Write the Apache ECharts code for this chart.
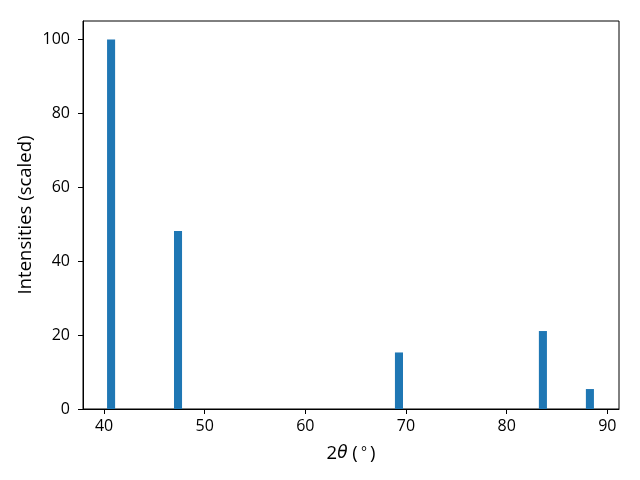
<!DOCTYPE html>
<html>
<head>
<meta charset="utf-8">
<script src="https://cdn.jsdelivr.net/npm/echarts@6/dist/echarts.min.js"></script>
<style>html,body{margin:0;padding:0;background:#fff;}#c{width:640px;height:480px;}</style>
</head>
<body>
<div id="c"></div>
<script>
var positions = [40.70, 47.35, 69.30, 83.60, 88.27];
var intensities = [100, 48.2, 15.3, 21.1, 5.4];
var xTicks = [40, 50, 60, 70, 80, 90];
var yTicks = [0, 20, 40, 60, 80, 100];
var barWidthData = 0.8;

var FONT = 'Open Sans';
var FS = 16;
var NFS = 18.5;
var chart = echarts.init(document.getElementById('c'), null, {renderer: 'canvas'});
var data = positions.map(function (p, i) { return [p, intensities[i]]; });

chart.setOption({
  animation: false,
  backgroundColor: '#ffffff',
  grid: {left: 83, right: 21, top: 21, bottom: 71, show: true, borderColor: '#000', borderWidth: 1, containLabel: false},
  xAxis: {
    type: 'value', min: 37.91, max: 91.16,
    name: '2{i|θ} (\u2009{s|°}\u2009)', nameLocation: 'middle', nameGap: 35,
    nameTextStyle: {fontFamily: FONT, fontSize: NFS, color: '#000', rich: {
      i: {fontStyle: 'italic', fontFamily: 'DejaVu Sans', fontSize: 17, color: '#000'},
      s: {fontFamily: FONT, fontSize: 14, color: '#000'}
    }},
    axisLine: {show: true, onZero: false, lineStyle: {color: '#000', width: 1}},
    axisTick: {show: true, inside: false, length: 5, lineStyle: {color: '#000'}, customValues: xTicks},
    axisLabel: {fontFamily: FONT, fontSize: FS, color: '#000', margin: 9, customValues: xTicks},
    splitLine: {show: false}
  },
  yAxis: {
    type: 'value', min: 0, max: 105,
    name: 'Intensities (scaled)', nameLocation: 'middle', nameGap: 48, nameMoveOverlap: false,
    nameTextStyle: {fontFamily: FONT, fontSize: NFS, color: '#000'},
    axisLine: {show: true, lineStyle: {color: '#000', width: 1}},
    axisTick: {show: true, inside: false, length: 5, lineStyle: {color: '#000'}, customValues: yTicks},
    axisLabel: {fontFamily: FONT, fontSize: FS, color: '#000', margin: 13, customValues: yTicks},
    splitLine: {show: false}
  },
  series: [{
    type: 'custom',
    data: data,
    renderItem: function (params, api) {
      var x = api.value(0), y = api.value(1);
      var p0 = api.coord([x - barWidthData / 2, y]);
      var p1 = api.coord([x + barWidthData / 2, 0]);
      return {
        type: 'rect',
        shape: {x: p0[0], y: p0[1], width: p1[0] - p0[0], height: p1[1] - p0[1]},
        style: {fill: '#1f77b4'}
      };
    }
  }]
});
</script>
</body>
</html>
